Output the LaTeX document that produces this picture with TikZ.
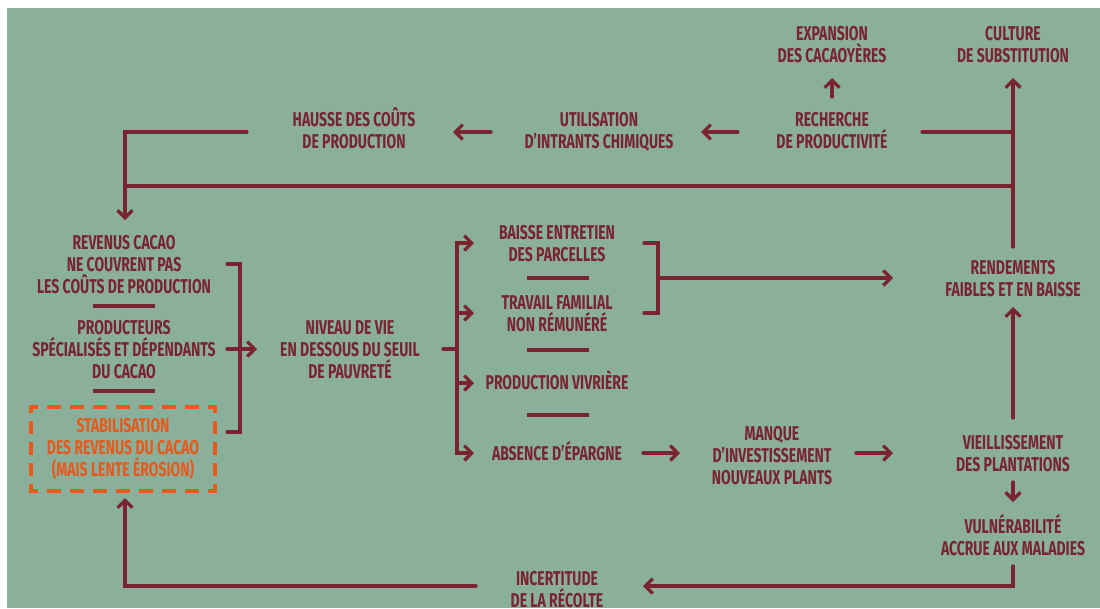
\documentclass[tikz,border=0pt]{standalone}
\usepackage{fontspec}
\setmainfont{Fira Sans}[FakeStretch=0.7]
\usetikzlibrary{arrows.meta}
\definecolor{bggreen}{HTML}{8AB09B}
\definecolor{dred}{HTML}{7A2331}
\definecolor{orng}{HTML}{E8591C}
\tikzset{
  lbl/.style={font=\bfseries\fontsize{15}{16.5}\selectfont, text=dred, align=center, inner sep=0pt, anchor=base},
  conn/.style={draw=dred, line width=2.5pt, line cap=round, line join=miter},
  arr/.style={conn, -{Straight Barb[length=5.5pt,width=11pt]}},
  arrboth/.style={conn, {Straight Barb[length=5.5pt,width=11pt]}-{Straight Barb[length=5.5pt,width=11pt]}},
  sepline/.style={draw=dred, line width=2.5pt},
  stabbox/.style={minimum width=138pt, minimum height=63pt, inner sep=0pt, text=orng, align=center,
     font=\bfseries\fontsize{15}{16.5}\selectfont},
  hdash/.style={draw=orng, line width=3pt, line cap=rect, dash pattern=on 7.5pt off 9.75pt, dash phase=3.75pt},
  vdash/.style={draw=orng, line width=3pt, line cap=rect, dash pattern=on 6.75pt off 9pt, dash phase=3.375pt}
}
\begin{document}
\begin{tikzpicture}[x=0.75pt,y=-0.75pt]
\useasboundingbox (0,0) rectangle (1100,608);
\fill[white] (0,0) rectangle (1100,608);
\fill[bggreen] (7,8) rectangle (1100,608);

% text nodes (anchor = baseline of last line)
\node[lbl] (exp)   at (832,62)  {EXPANSION\\DES CACAOYÈRES};
\node[lbl] (cult)  at (1013,62) {CULTURE\\DE SUBSTITUTION};
\node[lbl] (rech)  at (832,148) {RECHERCHE\\DE PRODUCTIVITÉ};
\node[lbl] (util)  at (599,148) {UTILISATION\\D’INTRANTS CHIMIQUES};
\node[lbl] (haus)  at (354,148) {HAUSSE DES COÛTS\\DE PRODUCTION};
\node[lbl] (rev)   at (124,293) {REVENUS CACAO\\NE COUVRENT PAS\\LES COÛTS DE PRODUCTION};
\node[lbl] (prod)  at (124,378) {PRODUCTEURS\\SPÉCIALISÉS ET DÉPENDANTS\\DU CACAO};
\node[stabbox] (stab) at (123,449) {STABILISATION\\DES REVENUS DU CACAO\\(MAIS LENTE ÉROSION)};
\draw[hdash] (stab.north west) -- (stab.north east);
\draw[hdash] (stab.south west) -- (stab.south east);
\draw[vdash] (stab.north west) -- (stab.south west);
\draw[vdash] (stab.north east) -- (stab.south east);
\node[lbl] (niv)   at (350,378) {NIVEAU DE VIE\\EN DESSOUS DU SEUIL\\DE PAUVRETÉ};
\node[lbl] (bai)   at (557,261) {BAISSE ENTRETIEN\\DES PARCELLES};
\node[lbl] (trav)  at (557,331) {TRAVAIL FAMILIAL\\NON RÉMUNÉRÉ};
\node[lbl] (pviv)  at (557,389) {PRODUCTION VIVRIÈRE};
\node[lbl] (abs)   at (557,460) {ABSENCE D’ÉPARGNE};
\node[lbl] (manq)  at (772,484) {MANQUE\\D’INVESTISSEMENT\\NOUVEAUX PLANTS};
\node[lbl] (rend)  at (1013,296) {RENDEMENTS\\FAIBLES ET EN BAISSE};
\node[lbl] (vieil) at (1013,471) {VIEILLISSEMENT\\DES PLANTATIONS};
\node[lbl] (vuln)  at (1013,555) {VULNÉRABILITÉ\\ACCRUE AUX MALADIES};
\node[lbl] (inc)   at (557,607) {INCERTITUDE\\DE LA RÉCOLTE};

% separators
\draw[sepline] (93,306) -- (155,306);
\draw[sepline] (93,391) -- (155,391);
\draw[sepline] (527,278) -- (589,278);
\draw[sepline] (527,350) -- (589,350);
\draw[sepline] (527,415) -- (589,415);

% connector end points
\coordinate (rechW) at (738,132);
\coordinate (utilE) at (701,132);
\coordinate (utilW) at (491,132);
\coordinate (hausE) at (453,132);
\coordinate (rechN) at (832,97);
\coordinate (expS)  at (832,78);
\coordinate (hausW) at (247,132);
\coordinate (revN)  at (125,220);
\coordinate (rechE) at (922,132);
\coordinate (trunkR) at (1013,132);
\coordinate (rendN) at (1013,247);
\coordinate (cultS) at (1013,78);
\coordinate (loopR) at (1013,186);
\coordinate (loopL) at (125,186);
\coordinate (brT)   at (227,264);
\coordinate (brB)   at (227,432);
\coordinate (prodE) at (227,349);
\coordinate (nivW)  at (257,349);
\coordinate (nivE)  at (443,349);
\coordinate (fanM)  at (457,349);
\coordinate (baiW)  at (474,243);
\coordinate (travW) at (474,313);
\coordinate (pvivW) at (474,383);
\coordinate (absW)  at (474,453);
\coordinate (br2T)  at (644,243);
\coordinate (br2B)  at (644,313);
\coordinate (br2M)  at (658,278);
\coordinate (rendW) at (893,278);
\coordinate (absE)  at (643,453);
\coordinate (manqW) at (680,453);
\coordinate (manqE) at (856,453);
\coordinate (vieilW) at (893,453);
\coordinate (vieilN) at (1013,418);
\coordinate (rendS) at (1013,307);
\coordinate (vieilS) at (1013,482);
\coordinate (vulnN) at (1013,502);
\coordinate (vulnS) at (1013,566);
\coordinate (incE)  at (643,586);
\coordinate (incW)  at (476,586);
\coordinate (stabS) at (125,498);

% connectors
\draw[arr] (rechW) -- (utilE);
\draw[arr] (utilW) -- (hausE);
\draw[arr] (rechN) -- (expS);
\draw[arr] (hausW) -| (revN);
\draw[conn] (rechE) -- (trunkR);
\draw[arr] (rendN) -- (cultS);
\draw[conn] (loopR) -- (loopL);
\draw[conn] (brT) -- ++(13,0) |- (brB);
\draw[arr] (prodE) -- (nivW);
\draw[conn] (nivE) -- (fanM);
\draw[arrboth] (baiW) -| (fanM) |- (absW);
\draw[arr] (457,313) -- (travW);
\draw[arr] (457,383) -- (pvivW);
\draw[conn] (br2T) -- ++(14,0) |- (br2B);
\draw[arr] (br2M) -- (rendW);
\draw[arr] (absE) -- (manqW);
\draw[arr] (manqE) -- (vieilW);
\draw[arr] (vieilN) -- (rendS);
\draw[arr] (vieilS) -- (vulnN);
\draw[arr] (vulnS) |- (incE);
\draw[arr] (incW) -| (stabS);
\end{tikzpicture}
\end{document}
